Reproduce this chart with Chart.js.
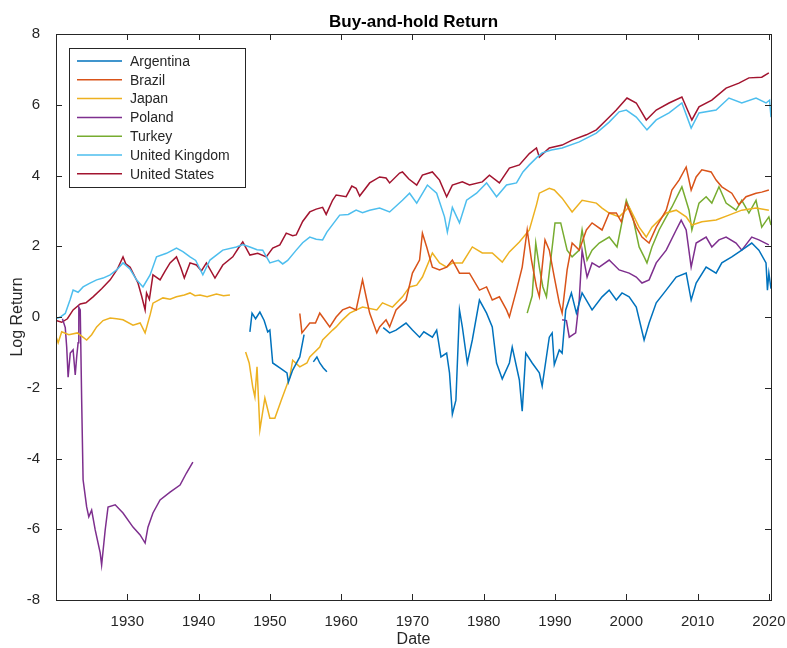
<!DOCTYPE html>
<html>
<head>
<meta charset="utf-8">
<script src="https://cdn.jsdelivr.net/npm/chart.js@4.4.1/dist/chart.umd.min.js"></script>
<style>
  body { margin: 0; background: #fff; }
  #wrap { width: 787px; height: 648px; }
</style>
</head>
<body>
<div id="wrap"><canvas id="chart" width="787" height="648"></canvas></div>
<script>
// tick values
const xTicks = [1930, 1940, 1950, 1960, 1970, 1980, 1990, 2000, 2010, 2020];
const yTicks = [-8, -6, -4, -2, 0, 2, 4, 6, 8];

const countries = ['Argentina', 'Brazil', 'Japan', 'Poland', 'Turkey', 'United Kingdom', 'United States'];
const colors = ['#0072BD', '#D95319', '#EDB120', '#7E2F8E', '#77AC30', '#4DBEEE', '#A2142F'];

// [year, log return]; null marks a gap in the series
const argentina = [
    [1947.2, -0.42], [1947.5, 0.11], [1948, -0.05], [1948.6, 0.14], [1949.2, -0.1], [1949.7, -0.42],
    [1950, -0.37], [1950.4, -1.3], [1951.4, -1.44], [1952.4, -1.58], [1952.6, -1.84], [1953.2, -1.5],
    [1954.2, -1.13], [1954.8, -0.5], [1955.4, null],
    [1956.1, -1.27], [1956.6, -1.13], [1957, -1.3], [1957.5, -1.44], [1958, -1.55], [1960, null],
    [1965.9, -0.3], [1966.8, -0.45], [1967.7, -0.37], [1969.1, -0.17], [1970, -0.37], [1971, -0.57],
    [1971.6, -0.42], [1972.8, -0.57], [1973.4, -0.37], [1974, -1.13], [1974.8, -1.02], [1975.2, -1.58],
    [1975.6, -2.75], [1976.1, -2.35], [1976.6, 0.2], [1977, -0.28], [1977.7, -1.3], [1978.4, -0.65],
    [1979.4, 0.48], [1980.4, 0.11], [1981.2, -0.28], [1981.8, -1.3], [1982.6, -1.75], [1983.6, -1.3],
    [1984, -0.85], [1985, -1.78], [1985.4, -2.66], [1985.9, -1.02], [1986.8, -1.3], [1987.8, -1.58],
    [1988.2, -1.95], [1989.2, -0.57], [1989.6, -0.45], [1989.9, -1.35], [1990.6, -0.93], [1991, -1.02],
    [1991.5, 0.2], [1992.3, 0.68], [1993, 0.11], [1993.8, 0.68], [1995.2, 0.2], [1996.6, 0.57],
    [1997.6, 0.76], [1998.6, 0.48], [1999.4, 0.68], [2000.4, 0.57], [2001.4, 0.28], [2002.5, -0.65],
    [2003.2, -0.17], [2004.2, 0.4], [2005.6, 0.76], [2007, 1.13], [2008.4, 1.24], [2009.1, 0.48],
    [2009.8, 0.96], [2011.2, 1.41], [2012.6, 1.24], [2013.4, 1.53], [2014.8, 1.7], [2016.2, 1.89],
    [2017.6, 2.09], [2018.6, 1.89], [2019.6, 1.53], [2019.8, 0.76], [2020, 1.24], [2020.3, 0.8]
];

const brazil = [
    [1954.2, 0.1], [1954.5, -0.45], [1955.6, -0.17], [1956.4, -0.17], [1957, 0.11], [1957.4, 0],
    [1958.4, -0.28], [1959.3, 0], [1960.2, 0.2], [1961.2, 0.28], [1962.1, 0.2], [1963, 1.05],
    [1963.6, 0.48], [1964, 0.11], [1965, -0.45], [1965.4, -0.28], [1966.3, -0.08], [1966.8, -0.28],
    [1967.7, 0.2], [1969.1, 0.48], [1970, 1.24], [1971, 1.61], [1971.4, 2.37], [1972, 1.98],
    [1972.8, 1.41], [1973.8, 1.33], [1974.8, 1.41], [1975.6, 1.61], [1976.6, 1.24], [1978, 1.24],
    [1979.4, 0.76], [1980.4, 0.85], [1981.2, 0.48], [1982.2, 0.57], [1983.2, 0.2], [1983.6, 0],
    [1984.6, 0.76], [1985.4, 1.41], [1986.1, 2.46], [1986.7, 1.61], [1987.4, 0.85], [1987.8, 0.57],
    [1988.2, 1.41], [1988.6, 2.18], [1989.2, 1.89], [1989.9, 1.13], [1990.6, 0.4], [1991, 0.11],
    [1991.7, 1.33], [1992.4, 2.09], [1993.4, 1.89], [1994.4, 2.46], [1995.2, 2.66], [1996.6, 2.46],
    [1997.6, 2.94], [1998.6, 2.94], [1999.3, 2.69], [2000, 3.22], [2001.4, 2.54], [2002.2, 2.26],
    [2003.2, 2.09], [2004.2, 2.54], [2005.6, 3.02], [2006.4, 3.59], [2007.4, 3.87], [2008.4, 4.24],
    [2009.1, 3.59], [2009.8, 3.96], [2010.6, 4.16], [2011.9, 4.1], [2012.6, 3.87], [2013.4, 3.68],
    [2014.8, 3.5], [2015.8, 3.17], [2016.8, 3.4], [2018.2, 3.5], [2019, 3.53], [2020, 3.59]
];

const japan = [
    [1920, -0.55], [1920.3, -0.73], [1920.8, -0.42], [1921.8, -0.5], [1923, -0.45], [1924.3, -0.65],
    [1925, -0.5], [1925.7, -0.28], [1926.6, -0.1], [1927.6, -0.03], [1928.5, -0.05], [1929.4, -0.08],
    [1930.8, -0.23], [1931.8, -0.17], [1932.5, -0.45], [1933.2, 0.06], [1933.6, 0.39], [1935, 0.54],
    [1936, 0.5], [1936.9, 0.57], [1938, 0.62], [1938.8, 0.68], [1939.5, 0.6], [1940.2, 0.62],
    [1941.2, 0.57], [1942.5, 0.65], [1943.5, 0.6], [1944.4, 0.62], [1945.5, null],
    [1946.6, -0.99], [1947.1, -1.3], [1947.6, -1.98], [1947.9, -2.26], [1948.2, -1.41], [1948.6, -3.19],
    [1949.3, -2.29], [1950, -2.86], [1950.7, -2.86], [1951.6, -2.35], [1952.8, -1.7], [1953.2, -1.22],
    [1954.2, -1.41], [1955.2, -1.3], [1955.6, -1.13], [1957, -0.85], [1957.4, -0.65], [1958.8, -0.37],
    [1959.3, -0.28], [1960.2, -0.08], [1961.2, 0.11], [1963, 0.28], [1965, 0.2], [1965.8, 0.4],
    [1967.2, 0.28], [1968.6, 0.57], [1969.6, 0.85], [1970.6, 0.9], [1971.4, 1.13], [1972.8, 1.81],
    [1973.8, 1.53], [1974.8, 1.41], [1975.6, 1.53], [1977, 1.53], [1978.4, 1.98], [1979.8, 1.81],
    [1981.2, 1.81], [1982.6, 1.55], [1983.6, 1.84], [1985, 2.12], [1986.4, 2.46], [1987.4, 3.17],
    [1987.8, 3.5], [1989.2, 3.64], [1989.9, 3.59], [1991, 3.36], [1992.4, 2.97], [1993.8, 3.3],
    [1995.8, 3.22], [1996.6, 3.08], [1997.6, 2.94], [1999, 2.83], [2000.4, 3.11], [2001.8, 2.54],
    [2002.8, 2.26], [2003.6, 2.54], [2005.6, 2.94], [2007, 3.02], [2008.4, 2.83], [2009.2, 2.6],
    [2010.6, 2.69], [2012.6, 2.74], [2014.4, 2.88], [2016.2, 3.02], [2018.2, 3.08], [2020, 3.02]
];

const poland = [
    [1920.9, -0.05], [1921.3, -0.3], [1921.5, -0.85], [1921.7, -1.7], [1922, -1.02], [1922.4, -0.93],
    [1922.7, -1.64], [1922.9, -1.13], [1923.1, -0.73], [1923.2, 0.28], [1923.4, 0.2], [1923.6, -2.35],
    [1923.8, -4.6], [1924.3, -5.37], [1924.6, -5.65], [1925, -5.46], [1925.5, -6.02], [1926.2, -6.67],
    [1926.4, -7.01], [1926.9, -6.02], [1927.3, -5.37], [1928.3, -5.31], [1929.4, -5.54], [1930.8, -5.94],
    [1931.8, -6.16], [1932.5, -6.39], [1932.9, -5.94], [1933.6, -5.54], [1934.6, -5.17], [1936, -4.95],
    [1937.4, -4.75], [1938.3, -4.41], [1939.2, -4.1], [1940, null],
    [1991, -0.08], [1991.6, -0.1], [1992, -0.57], [1992.9, -0.45], [1993.4, 0.48], [1993.8, 1.89],
    [1994.5, 1.13], [1995.2, 1.53], [1996.2, 1.41], [1997.6, 1.61], [1999, 1.33], [2000.4, 1.24],
    [2001.4, 1.13], [2002.2, 0.96], [2003.2, 1.05], [2004.2, 1.53], [2005.6, 1.89], [2007, 2.46],
    [2007.7, 2.74], [2008.4, 2.46], [2009.1, 1.41], [2009.8, 2.09], [2011.2, 2.26], [2012, 1.98],
    [2013, 2.18], [2014, 2.26], [2015.4, 2.09], [2016.2, 1.89], [2017.6, 2.26], [2018.6, 2.18], [2020, 2.04]
];

const turkey = [
    [1986.1, 0.11], [1986.8, 0.6], [1987.3, 2.09], [1987.8, 1.41], [1988.3, 0.85], [1988.8, 0.57],
    [1990, 2.66], [1990.8, 2.66], [1991.7, 1.89], [1992.4, 1.7], [1993.4, 1.89], [1993.8, 2.46],
    [1994.5, 1.61], [1995.2, 1.89], [1996.2, 2.09], [1997.6, 2.26], [1998.7, 1.98], [2000, 3.3],
    [2000.9, 2.83], [2001.8, 1.98], [2002.5, 1.7], [2002.9, 1.53], [2003.6, 1.98], [2004.6, 2.46],
    [2005.6, 2.83], [2006.4, 3.11], [2007.8, 3.68], [2008.8, 3.02], [2009.2, 2.46], [2010.2, 3.22],
    [2011.2, 3.4], [2012, 3.22], [2013, 3.68], [2014, 3.22], [2015.4, 3.02], [2016.2, 3.3],
    [2017.2, 2.94], [2018.2, 3.3], [2019, 2.54], [2020, 2.83], [2020.3, 2.6]
];

const unitedKingdom = [
    [1920, -0.05], [1920.6, 0], [1921.3, 0.1], [1922, 0.5], [1922.4, 0.76], [1923.1, 0.7],
    [1923.8, 0.85], [1924.7, 0.95], [1925.7, 1.05], [1926.6, 1.1], [1927.6, 1.19], [1928.6, 1.35],
    [1929.4, 1.53], [1930.4, 1.35], [1931.3, 1.05], [1932.2, 0.85], [1933.2, 1.19], [1934.1, 1.7],
    [1935.5, 1.8], [1936.9, 1.95], [1937.8, 1.85], [1938.8, 1.7], [1939.6, 1.6], [1940.6, 1.19],
    [1941.6, 1.61], [1942.5, 1.75], [1943.4, 1.89], [1945.3, 1.98], [1946.2, 2.05], [1947.2, 1.98],
    [1948.2, 1.9], [1949, 1.89], [1950, 1.53], [1951.2, 1.6], [1951.8, 1.5], [1952.5, 1.6],
    [1953.7, 1.89], [1954.6, 2.1], [1955.6, 2.26], [1956.5, 2.2], [1957.4, 2.18], [1958, 2.4],
    [1959.8, 2.88], [1961, 2.9], [1962.1, 3.02], [1963, 2.95], [1964, 3.02], [1965.4, 3.08],
    [1966.8, 2.97], [1968.6, 3.3], [1969.6, 3.5], [1970.6, 3.22], [1972.1, 3.73], [1973.4, 3.5],
    [1974.5, 2.83], [1974.9, 2.4], [1975.6, 3.1], [1976.6, 2.66], [1977.6, 3.3], [1979, 3.5],
    [1980.4, 3.79], [1981.8, 3.4], [1983.2, 3.73], [1984.6, 3.79], [1985.5, 4.1], [1986.4, 4.3],
    [1987.5, 4.52], [1988.2, 4.64], [1989.5, 4.72], [1991, 4.78], [1993.4, 4.95], [1995.8, 5.2],
    [1997.6, 5.51], [1999, 5.8], [2000, 5.85], [2001.4, 5.65], [2002.9, 5.29], [2004.2, 5.57],
    [2006, 5.77], [2007.8, 6.05], [2009.1, 5.34], [2010.2, 5.77], [2012.6, 5.85], [2014.4, 6.19],
    [2016.2, 6.05], [2018.2, 6.19], [2019.6, 6.05], [2020.1, 6.13], [2020.3, 5.65]
];

const unitedStates = [
    [1920, -0.1], [1920.8, -0.15], [1921.6, -0.05], [1922.4, 0.2], [1923.4, 0.37], [1924.2, 0.4],
    [1925.2, 0.57], [1926.4, 0.8], [1927.6, 1.05], [1928.6, 1.35], [1929.4, 1.7], [1929.8, 1.5],
    [1930.4, 1.41], [1931.5, 0.96], [1932, 0.6], [1932.5, 0.2], [1932.7, 0.68], [1933.1, 0.5],
    [1933.6, 1.19], [1934.6, 1.05], [1935.3, 1.3], [1936, 1.53], [1936.9, 1.7], [1937.5, 1.4],
    [1938, 1.1], [1938.8, 1.53], [1939.7, 1.47], [1940.4, 1.3], [1941.1, 1.53], [1942.3, 1.1],
    [1943.4, 1.47], [1944.8, 1.7], [1945.6, 1.95], [1946.2, 2.12], [1947.2, 1.75], [1948.3, 1.8],
    [1949.5, 1.7], [1950.4, 1.95], [1951.4, 2.04], [1952.3, 2.37], [1953.2, 2.3], [1953.7, 2.32],
    [1954.6, 2.7], [1955.6, 2.97], [1956.5, 3.05], [1957.4, 3.1], [1957.9, 2.9], [1958.8, 3.3],
    [1959.3, 3.45], [1960.7, 3.4], [1961.5, 3.7], [1962.1, 3.64], [1962.6, 3.42], [1964, 3.79],
    [1965.4, 3.96], [1966.3, 3.93], [1966.8, 3.79], [1968.2, 4.07], [1968.6, 4.1], [1969.5, 3.9],
    [1970.6, 3.73], [1971.4, 4.01], [1972.8, 4.1], [1973.8, 3.87], [1974.8, 3.4], [1975.6, 3.73],
    [1977, 3.82], [1978, 3.73], [1979.8, 3.82], [1980.8, 4.01], [1982.2, 3.79], [1983.6, 4.21],
    [1985, 4.3], [1986.4, 4.62], [1987.4, 4.78], [1987.8, 4.52], [1989.2, 4.78], [1991, 4.86],
    [1992.4, 5.0], [1994.4, 5.15], [1995.8, 5.29], [1997.2, 5.57], [1998.6, 5.85], [2000.1, 6.19],
    [2001.4, 6.05], [2002.8, 5.57], [2004.2, 5.85], [2006, 6.05], [2007.8, 6.22], [2009.2, 5.57],
    [2010.2, 5.94], [2012, 6.13], [2014, 6.47], [2015.8, 6.61], [2017.2, 6.76], [2019, 6.78], [2020, 6.9]
];

const series = [argentina, brazil, japan, poland, turkey, unitedKingdom, unitedStates];

const FONT = '"Liberation Sans", Arial, Helvetica, sans-serif';
const AXIS_COLOR = '#262626';

// MATLAB-style box, inward ticks, title, axis labels and legend
const matlabAxes = {
    id: 'matlabAxes',
    afterDraw(chart) {
        const { ctx, chartArea: a, scales } = chart;
        const tick = 6;
        ctx.save();
        ctx.strokeStyle = AXIS_COLOR;
        ctx.lineWidth = 1;
        ctx.strokeRect(a.left + 0.5, a.top + 0.5, a.right - a.left, a.bottom - a.top);
        ctx.beginPath();
        xTicks.forEach(v => {
            const x = Math.round(scales.x.getPixelForValue(v)) + 0.5;
            ctx.moveTo(x, a.bottom); ctx.lineTo(x, a.bottom - tick);
            ctx.moveTo(x, a.top); ctx.lineTo(x, a.top + tick);
        });
        yTicks.forEach(v => {
            const y = Math.round(scales.y.getPixelForValue(v)) + 0.5;
            ctx.moveTo(a.left, y); ctx.lineTo(a.left + tick, y);
            ctx.moveTo(a.right, y); ctx.lineTo(a.right - tick, y);
        });
        ctx.stroke();

        // title and axis labels
        const midX = (a.left + a.right) / 2;
        ctx.fillStyle = '#000';
        ctx.textAlign = 'center';
        ctx.textBaseline = 'middle';
        ctx.font = 'bold 17px ' + FONT;
        ctx.fillText('Buy-and-hold Return', midX, 22);
        ctx.fillStyle = AXIS_COLOR;
        ctx.font = '16px ' + FONT;
        ctx.fillText('Date', midX, 640);
        ctx.save();
        ctx.translate(18, (a.top + a.bottom) / 2);
        ctx.rotate(-Math.PI / 2);
        ctx.fillText('Log Return', 0, 0);
        ctx.restore();

        // legend
        const lx = a.left + 13, ly = a.top + 14, lw = 176, lh = 139;
        ctx.fillStyle = '#fff';
        ctx.fillRect(lx, ly, lw, lh);
        ctx.strokeStyle = AXIS_COLOR;
        ctx.strokeRect(lx + 0.5, ly + 0.5, lw, lh);
        ctx.font = '14px ' + FONT;
        ctx.textAlign = 'left';
        chart.data.datasets.forEach((ds, i) => {
            const y = ly + 13 + i * 18.8;
            ctx.strokeStyle = ds.borderColor;
            ctx.lineWidth = 1.5;
            ctx.beginPath();
            ctx.moveTo(lx + 8, y); ctx.lineTo(lx + 53, y);
            ctx.stroke();
            ctx.fillStyle = AXIS_COLOR;
            ctx.fillText(ds.label, lx + 61, y + 1);
        });
        ctx.restore();
    }
};

new Chart(document.getElementById('chart'), {
    type: 'line',
    data: {
        datasets: countries.map((name, i) => ({
            label: name,
            data: series[i].map(([x, y]) => ({ x, y })),
            borderColor: colors[i],
            backgroundColor: colors[i],
            borderWidth: 1.5,
            pointRadius: 0,
            tension: 0,
            spanGaps: false
        }))
    },
    options: {
        responsive: false,
        animation: false,
        layout: { padding: { left: 0, right: 16, top: 34, bottom: 0 } },
        plugins: {
            legend: { display: false },
            title: { display: false },
            tooltip: { enabled: false }
        },
        scales: {
            x: {
                type: 'linear',
                min: 1920,
                max: 2020.3,
                afterBuildTicks: s => { s.ticks = xTicks.map(v => ({ value: v })); },
                afterFit: s => { s.height = 48; s.paddingLeft = 0; s.paddingRight = 0; },
                grid: { display: false },
                border: { display: false },
                ticks: {
                    color: AXIS_COLOR,
                    font: { family: FONT, size: 15 },
                    padding: 5,
                    maxRotation: 0,
                    callback: v => String(v)
                }
            },
            y: {
                min: -8,
                max: 8,
                afterBuildTicks: s => { s.ticks = yTicks.map(v => ({ value: v })); },
                afterFit: s => { s.width = 56; s.paddingTop = 0; s.paddingBottom = 0; },
                grid: { display: false },
                border: { display: false },
                ticks: {
                    color: AXIS_COLOR,
                    font: { family: FONT, size: 15 },
                    padding: 8,
                    callback: v => String(v)
                }
            }
        }
    },
    plugins: [matlabAxes]
});
</script>
</body>
</html>
